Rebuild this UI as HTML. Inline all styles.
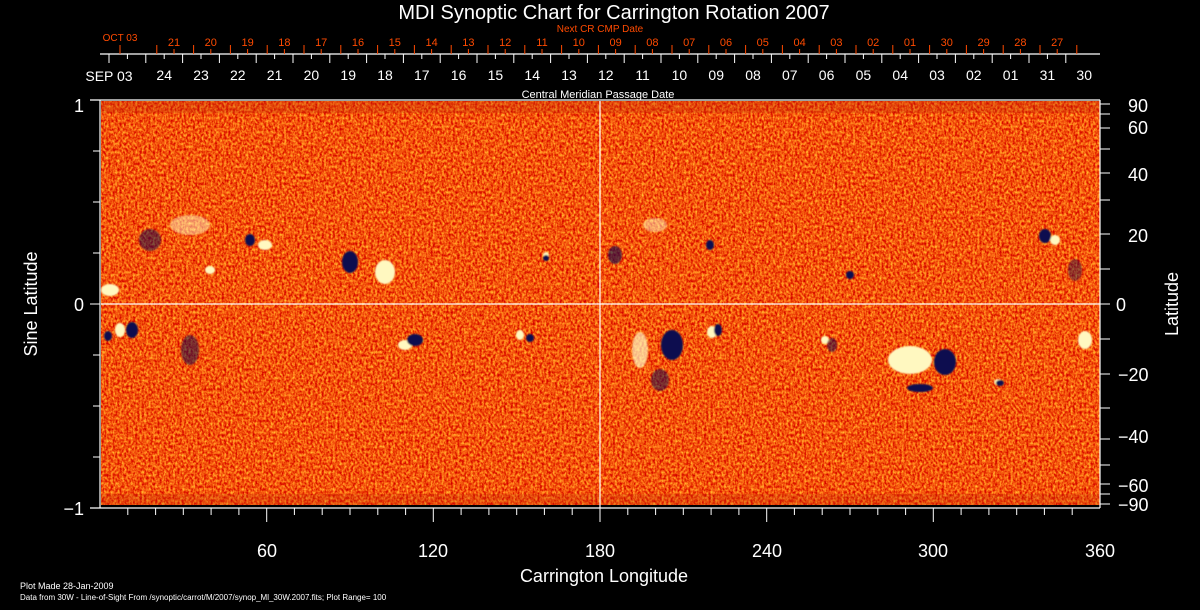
<!DOCTYPE html>
<html><head><meta charset="utf-8"><style>
html,body{margin:0;padding:0;background:#000;width:1200px;height:610px;overflow:hidden}
svg{display:block}
text{font-family:"Liberation Sans",sans-serif}
</style></head><body>
<svg width="1200" height="610" viewBox="0 0 1200 610" xmlns="http://www.w3.org/2000/svg">
<defs>
<filter id="base" x="0" y="0" width="100%" height="100%" color-interpolation-filters="sRGB">
 <feTurbulence type="fractalNoise" baseFrequency="0.45 0.35" numOctaves="2" seed="3" result="n"/>
 <feColorMatrix in="n" type="matrix" values="0.4 0 0 0 0.75  1.2 0 0 0 -0.27  0.4 0 0 0 -0.15  0 0 0 0 1"/>
</filter>
<filter id="yel" x="0" y="0" width="100%" height="100%" color-interpolation-filters="sRGB">
 <feTurbulence type="fractalNoise" baseFrequency="0.35" numOctaves="2" seed="11" result="n"/>
 <feComponentTransfer in="n" result="a"><feFuncA type="discrete" tableValues="0 0 0 0 0 0 0 0 0 0 0 0 0 0 0 0.6 0.9 1"/></feComponentTransfer>
 <feFlood flood-color="#ffc040"/><feComposite in2="a" operator="in"/>
</filter>
<filter id="blu" x="0" y="0" width="100%" height="100%" color-interpolation-filters="sRGB">
 <feTurbulence type="fractalNoise" baseFrequency="0.4" numOctaves="2" seed="27" result="n"/>
 <feComponentTransfer in="n" result="a"><feFuncA type="discrete" tableValues="0 0 0 0 0 0 0 0 0 0 0 0 0 0 0 0 0 0 0.9 1"/></feComponentTransfer>
 <feFlood flood-color="#101070"/><feComposite in2="a" operator="in"/>
</filter>
<filter id="blur"><feGaussianBlur stdDeviation="0.8"/></filter>
</defs>
<rect x="101" y="101" width="999" height="404" fill="#f04a12"/>
<rect x="101" y="101" width="999" height="404" filter="url(#base)"/>
<rect x="101" y="101" width="999" height="404" filter="url(#yel)" opacity="0.55"/>
<rect x="101" y="101" width="999" height="404" filter="url(#blu)" opacity="0.8"/>
<rect x="101" y="101" width="999" height="12" fill="#c02808" opacity="0.3"/>
<rect x="101" y="494" width="999" height="11" fill="#c02808" opacity="0.25"/>
<g filter="url(#blur)">
<g fill="#fff8c0">
<ellipse cx="110" cy="290" rx="9" ry="6"/><ellipse cx="120" cy="330" rx="5" ry="7"/>
<ellipse cx="190" cy="225" rx="20" ry="10" opacity="0.5"/><ellipse cx="265" cy="245" rx="7" ry="5"/>
<ellipse cx="385" cy="272" rx="10" ry="12"/><ellipse cx="405" cy="345" rx="7" ry="5"/>
<ellipse cx="520" cy="335" rx="4" ry="5"/><ellipse cx="546" cy="255" rx="3" ry="3"/>
<ellipse cx="640" cy="350" rx="8" ry="18" opacity="0.7"/><ellipse cx="712" cy="332" rx="5" ry="6"/>
<ellipse cx="655" cy="225" rx="12" ry="7" opacity="0.5"/><ellipse cx="825" cy="340" rx="4" ry="4"/>
<ellipse cx="910" cy="360" rx="22" ry="14"/><ellipse cx="998" cy="382" rx="4" ry="3"/>
<ellipse cx="1055" cy="240" rx="5" ry="5"/><ellipse cx="1085" cy="340" rx="7" ry="9"/>
<ellipse cx="210" cy="270" rx="5" ry="4"/>
</g>
<g fill="#0a0a50">
<ellipse cx="108" cy="336" rx="4" ry="5"/><ellipse cx="132" cy="330" rx="6" ry="8"/>
<ellipse cx="150" cy="240" rx="11" ry="11" opacity="0.5"/><ellipse cx="190" cy="350" rx="9" ry="15" opacity="0.5"/>
<ellipse cx="250" cy="240" rx="5" ry="6"/><ellipse cx="350" cy="262" rx="8" ry="11"/>
<ellipse cx="415" cy="340" rx="8" ry="6"/><ellipse cx="530" cy="338" rx="4" ry="4"/>
<ellipse cx="546" cy="258" rx="3" ry="3"/><ellipse cx="615" cy="255" rx="7" ry="9" opacity="0.6"/>
<ellipse cx="672" cy="345" rx="11" ry="15"/><ellipse cx="660" cy="380" rx="9" ry="11" opacity="0.5"/>
<ellipse cx="718" cy="330" rx="4" ry="6"/><ellipse cx="710" cy="245" rx="4" ry="5"/>
<ellipse cx="850" cy="275" rx="4" ry="4"/><ellipse cx="832" cy="345" rx="5" ry="7" opacity="0.5"/>
<ellipse cx="945" cy="362" rx="11" ry="13"/><ellipse cx="920" cy="388" rx="13" ry="4"/>
<ellipse cx="1000" cy="383" rx="4" ry="3"/><ellipse cx="1045" cy="236" rx="6" ry="7"/>
<ellipse cx="1075" cy="270" rx="7" ry="11" opacity="0.4"/>
</g>
</g>
<g stroke="#fff" stroke-width="1.2" fill="none">
<line x1="101" y1="304" x2="1100" y2="304"/>
<line x1="600" y1="101" x2="600" y2="508"/>
<line x1="100" y1="54" x2="1100" y2="54"/>
<line x1="90" y1="100" x2="1100" y2="100"/>
<line x1="90" y1="508" x2="1100" y2="508"/>
<line x1="100" y1="100" x2="100" y2="508"/>
<line x1="1100" y1="100" x2="1100" y2="508"/>
</g>
<g stroke="#fff" stroke-width="1" fill="none">
<path d="M127.8 508v7M155.6 508v7M183.3 508v7M211.1 508v7M238.9 508v7M266.7 508v14M294.4 508v7M322.2 508v7M350 508v7M377.8 508v7M405.6 508v7M433.3 508v14M461.1 508v7M488.9 508v7M516.7 508v7M544.4 508v7M572.2 508v7M600 508v14M627.8 508v7M655.6 508v7M683.3 508v7M711.1 508v7M738.9 508v7M766.7 508v14M794.4 508v7M822.2 508v7M850 508v7M877.8 508v7M905.6 508v7M933.3 508v14M961.1 508v7M988.9 508v7M1016.7 508v7M1044.4 508v7M1072.2 508v7"/>
<path d="M90 100h10M90 304h10M90 508h10M93 151h7M93 202h7M93 253h7M93 355h7M93 406h7M93 457h7"/>
<path d="M1100 104h10M1100 114h10M1100 128h10M1100 149h10M1100 173h10M1100 200h10M1100 234h10M1100 269h10M1100 304h10M1100 339h10M1100 374h10M1100 408h10M1100 439h10M1100 465h10M1100 484h10M1100 494h10M1100 504h10"/>
<path d="M109 54v9m36.8 -9v9m36.8 -9v9m36.8 -9v9m36.8 -9v9m36.8 -9v9m36.8 -9v9m36.8 -9v9m36.8 -9v9m36.8 -9v9m36.8 -9v9m36.8 -9v9m36.8 -9v9m36.8 -9v9m36.8 -9v9m36.8 -9v9m36.8 -9v9m36.8 -9v9m36.8 -9v9m36.8 -9v9m36.8 -9v9m36.8 -9v9m36.8 -9v9m36.8 -9v9m36.8 -9v9m36.8 -9v9m36.8 -9v9"/>
<path d="M127.4 54v5m36.8 -5v5m36.8 -5v5m36.8 -5v5m36.8 -5v5m36.8 -5v5m36.8 -5v5m36.8 -5v5m36.8 -5v5m36.8 -5v5m36.8 -5v5m36.8 -5v5m36.8 -5v5m36.8 -5v5m36.8 -5v5m36.8 -5v5m36.8 -5v5m36.8 -5v5m36.8 -5v5m36.8 -5v5m36.8 -5v5m36.8 -5v5m36.8 -5v5m36.8 -5v5m36.8 -5v5m36.8 -5v5"/>
</g>
<g stroke="#ff4a00" stroke-width="1" fill="none">
<path d="M120 54v-9m36.8 9v-9m36.8 9v-9m36.8 9v-9m36.8 9v-9m36.8 9v-9m36.8 9v-9m36.8 9v-9m36.8 9v-9m36.8 9v-9m36.8 9v-9m36.8 9v-9m36.8 9v-9m36.8 9v-9m36.8 9v-9m36.8 9v-9m36.8 9v-9m36.8 9v-9m36.8 9v-9m36.8 9v-9m36.8 9v-9m36.8 9v-9m36.8 9v-9m36.8 9v-9m36.8 9v-9m36.8 9v-9m36.8 9v-9"/>
<path d="M174 54v-5m36.8 5v-5m36.8 5v-5m36.8 5v-5m36.8 5v-5m36.8 5v-5m36.8 5v-5m36.8 5v-5m36.8 5v-5m36.8 5v-5m36.8 5v-5m36.8 5v-5m36.8 5v-5m36.8 5v-5m36.8 5v-5m36.8 5v-5m36.8 5v-5m36.8 5v-5m36.8 5v-5m36.8 5v-5m36.8 5v-5m36.8 5v-5m36.8 5v-5m36.8 5v-5m36.8 5v-5"/>
</g>
<g fill="#fff" font-size="14" text-anchor="middle">
<text x="164.2" y="80">24</text><text x="201" y="80">23</text><text x="237.8" y="80">22</text><text x="274.6" y="80">21</text><text x="311.4" y="80">20</text><text x="348.2" y="80">19</text><text x="385" y="80">18</text><text x="421.8" y="80">17</text><text x="458.6" y="80">16</text><text x="495.4" y="80">15</text><text x="532.2" y="80">14</text><text x="569" y="80">13</text><text x="605.8" y="80">12</text><text x="642.6" y="80">11</text><text x="679.4" y="80">10</text><text x="716.2" y="80">09</text><text x="753" y="80">08</text><text x="789.8" y="80">07</text><text x="826.6" y="80">06</text><text x="863.4" y="80">05</text><text x="900.2" y="80">04</text><text x="937" y="80">03</text><text x="973.8" y="80">02</text><text x="1010.6" y="80">01</text><text x="1047.4" y="80">31</text><text x="1084.2" y="80">30</text>
</g>
<g fill="#ff4a00" font-size="11" text-anchor="middle">
<text x="174" y="46">21</text><text x="210.8" y="46">20</text><text x="247.6" y="46">19</text><text x="284.4" y="46">18</text><text x="321.2" y="46">17</text><text x="358" y="46">16</text><text x="394.8" y="46">15</text><text x="431.6" y="46">14</text><text x="468.4" y="46">13</text><text x="505.2" y="46">12</text><text x="542" y="46">11</text><text x="578.8" y="46">10</text><text x="615.6" y="46">09</text><text x="652.4" y="46">08</text><text x="689.2" y="46">07</text><text x="726" y="46">06</text><text x="762.8" y="46">05</text><text x="799.6" y="46">04</text><text x="836.4" y="46">03</text><text x="873.2" y="46">02</text><text x="910" y="46">01</text><text x="946.8" y="46">30</text><text x="983.6" y="46">29</text><text x="1020.4" y="46">28</text><text x="1057.2" y="46">27</text>
</g>
<text x="614" y="19" fill="#fff" font-size="20" text-anchor="middle">MDI Synoptic Chart for Carrington Rotation 2007</text>
<text x="600" y="32" fill="#ff4a00" font-size="10" text-anchor="middle">Next CR CMP Date</text>
<text x="120" y="41" fill="#ff4a00" font-size="10" text-anchor="middle">OCT 03</text>
<text x="109" y="81" fill="#fff" font-size="14" text-anchor="middle">SEP 03</text>
<text x="598" y="98" fill="#fff" font-size="11" text-anchor="middle">Central Meridian Passage Date</text>
<g fill="#fff" font-size="18" text-anchor="end">
<text x="84" y="112">1</text><text x="84" y="311">0</text><text x="84" y="515">−1</text>
</g>
<g fill="#fff" font-size="18">
<text x="1128" y="112">90</text><text x="1128" y="134">60</text><text x="1128" y="181">40</text>
<text x="1128" y="242">20</text><text x="1116" y="311">0</text><text x="1118" y="381">−20</text>
<text x="1118" y="443">−40</text><text x="1118" y="492">−60</text><text x="1118" y="511">−90</text>
</g>
<g fill="#fff" font-size="18" text-anchor="middle">
<text x="267" y="557">60</text><text x="433" y="557">120</text><text x="600" y="557">180</text>
<text x="767" y="557">240</text><text x="933" y="557">300</text><text x="1100" y="557">360</text>
<text x="604" y="582">Carrington Longitude</text>
<text transform="translate(37 304) rotate(-90)">Sine Latitude</text>
<text transform="translate(1178 304) rotate(-90)">Latitude</text>
</g>
<text x="20" y="589" fill="#fff" font-size="9">Plot Made 28-Jan-2009</text>
<text x="20" y="600" fill="#fff" font-size="8">Data from 30W - Line-of-Sight From /synoptic/carrot/M/2007/synop_Ml_30W.2007.fits; Plot Range=  100</text>
</svg>
</body></html>
